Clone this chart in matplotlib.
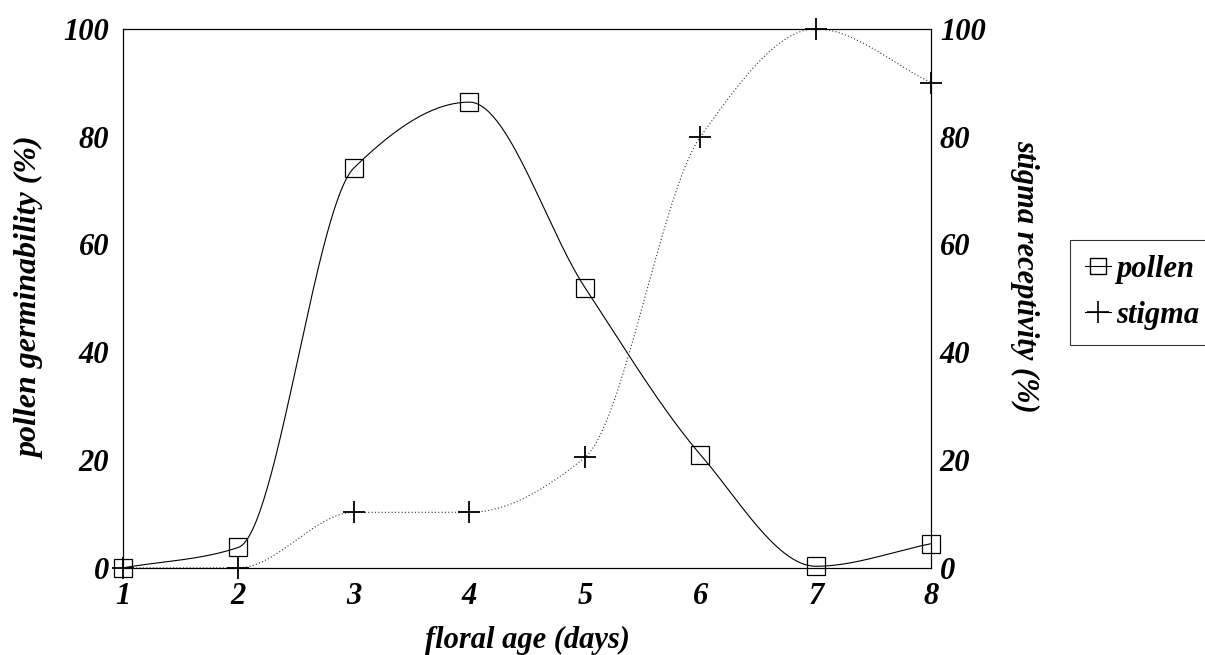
import matplotlib.pyplot as plt
from matplotlib.lines import Line2D
import numpy as np

plt.rcParams['font.family'] = ['Liberation Serif', 'DejaVu Serif']

days = [1, 2, 3, 4, 5, 6, 7, 8]
pollen = [0, 3.8, 74.2, 86.4, 52, 21, 0.3, 4.5]
stigma = [0, 0, 10.3, 10.3, 20.5, 80, 100, 90]
yticks = [0, 20, 40, 60, 80, 100]


def smooth(x, y, n=60):
    # monotone (pchip-style) cubic through the points, only for the drawn line
    x = np.asarray(x, float)
    y = np.asarray(y, float)
    h = np.diff(x)
    d = np.diff(y) / h
    m = np.zeros_like(y)
    for i in range(1, len(y) - 1):
        if d[i - 1] * d[i] > 0:
            w1 = 2 * h[i] + h[i - 1]
            w2 = h[i] + 2 * h[i - 1]
            m[i] = (w1 + w2) / (w1 / d[i - 1] + w2 / d[i])
    # ends: just the slope of the end segment
    m[0] = d[0]
    m[-1] = d[-1]
    xs_all, ys_all = [], []
    for i in range(len(x) - 1):
        t = np.linspace(0, 1, n)
        h00 = 2 * t**3 - 3 * t**2 + 1
        h10 = t**3 - 2 * t**2 + t
        h01 = -2 * t**3 + 3 * t**2
        h11 = t**3 - t**2
        xs_all.append(x[i] + t * h[i])
        ys_all.append(h00 * y[i] + h10 * h[i] * m[i] + h01 * y[i + 1] + h11 * h[i] * m[i + 1])
    return np.concatenate(xs_all), np.concatenate(ys_all)


fig = plt.figure(figsize=(12.05, 6.55), dpi=100)
ax = fig.add_axes([0.102, 0.133, 0.671, 0.823])
ax2 = ax.twinx()

xs, ys = smooth(days, pollen)
ax.plot(xs, ys, color='black', lw=0.8, clip_on=False)
ax.plot(days, pollen, linestyle='none', marker='s', ms=13, mfc='none',
        mec='black', mew=0.9, clip_on=False, zorder=5)

xs2, ys2 = smooth(days, stigma)
ax2.plot(xs2, ys2, color='#333333', lw=0.8, linestyle=(0, (1, 2)), clip_on=False)
ax2.plot(days, stigma, linestyle='none', marker='+', ms=16.5, mec='black',
         mew=1.3, clip_on=False, zorder=5)

tfont = dict(fontsize=22, fontweight='bold', fontstyle='italic')
for a in (ax, ax2):
    a.set_xlim(1, 8)
    a.set_ylim(0, 100)
    a.set_yticks(yticks)
    a.set_yticklabels([str(v) for v in yticks], **tfont)
    a.tick_params(length=0)
    for s in a.spines.values():
        s.set_linewidth(0.8)
ax.set_xticks(days)
ax.set_xticklabels([str(d) for d in days], **tfont)
ax.tick_params(axis='y', pad=10)
ax.tick_params(axis='x', pad=10)
ax2.tick_params(axis='y', pad=6)

ax.set_xlabel('floral age (days)', fontsize=22, fontweight='bold',
              fontstyle='italic', labelpad=11)
ax.set_ylabel('pollen germinability (%)', fontsize=23, fontweight='bold',
              fontstyle='italic', labelpad=13)
ax2.set_ylabel('stigma receptivity (%)', fontsize=22, fontweight='bold',
               fontstyle='italic', rotation=270)
ax2.yaxis.set_label_coords(1.133, 0.54)

handles = [
    Line2D([0], [0], color='black', lw=0.8, marker='s', ms=11, mfc='none', mec='black'),
    Line2D([0], [0], color='black', lw=0.8, marker='+', ms=16, mew=1.2),
]
leg = fig.legend(handles, ['pollen', 'stigma'], loc='upper left',
                 bbox_to_anchor=(0.888, 0.634), frameon=True, fancybox=False,
                 handlelength=0.85, handletextpad=0.15, borderpad=0.5,
                 borderaxespad=0, labelspacing=0.55,
                 prop=dict(family='Liberation Serif', size=22, weight='bold', style='italic'))
leg.get_frame().set_edgecolor('black')
leg.get_frame().set_linewidth(0.8)

fig.savefig('out.png', dpi=100)
